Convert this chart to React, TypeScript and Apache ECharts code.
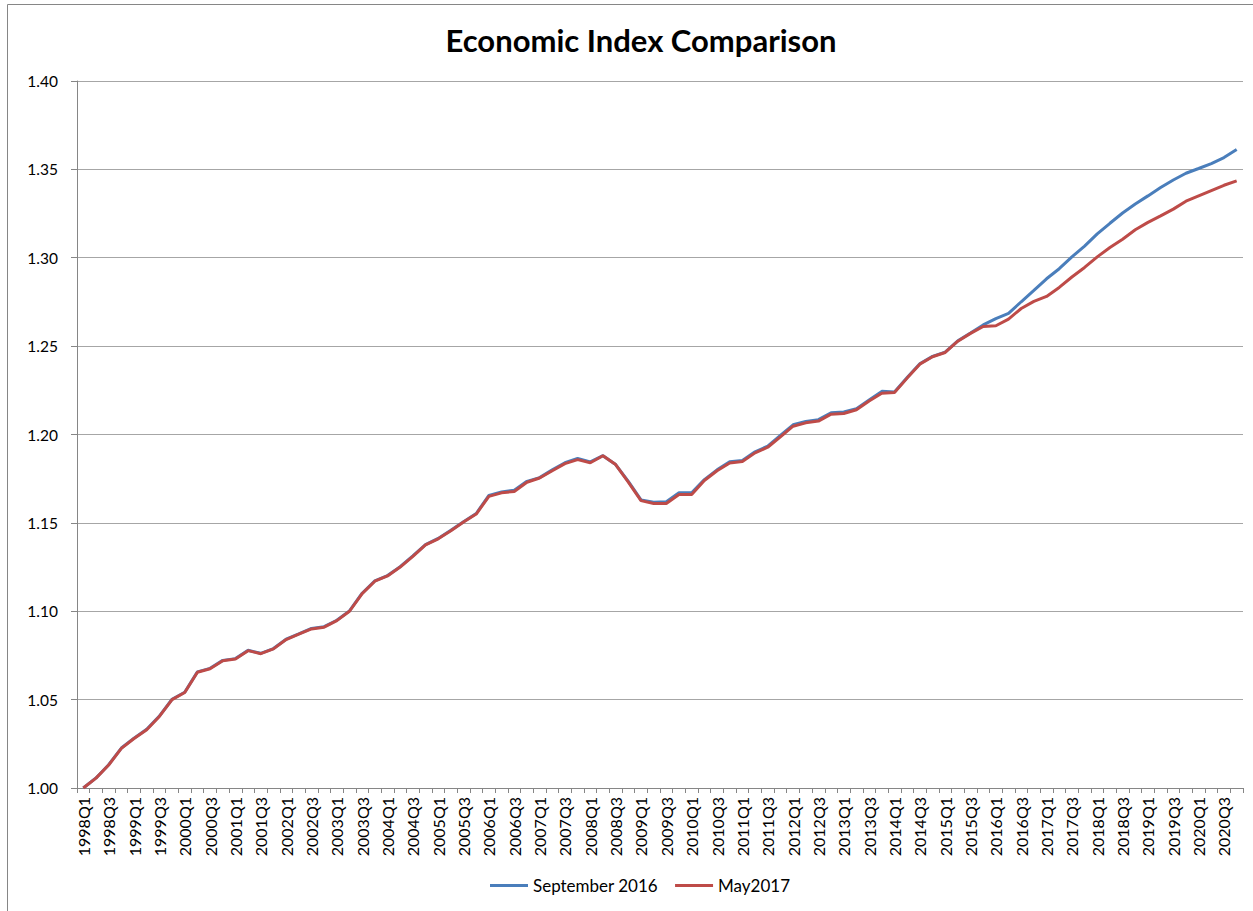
import React, { useEffect, useRef } from "react";
import * as echarts from "echarts";

const years: number[] = [];
for (let y = 1998; y <= 2020; y++) years.push(y);
const quarters = ["Q1", "Q2", "Q3", "Q4"];
const categories: string[] = [];
years.forEach((y) => quarters.forEach((q) => categories.push(`${y}${q}`)));

const seriesNames = ["September 2016", "May2017"];

const september2016 = [
  1.0, 1.0057, 1.0132, 1.0226, 1.0282, 1.0332, 1.0407, 1.0502, 1.0542, 1.0657,
  1.0677, 1.0722, 1.0732, 1.0779, 1.0762, 1.0789, 1.0842, 1.0872, 1.0903, 1.0913,
  1.0949, 1.1002, 1.1102, 1.1172, 1.1202, 1.1252, 1.1313, 1.1377, 1.1412, 1.1458,
  1.1507, 1.1553, 1.1655, 1.1675, 1.1685, 1.1735, 1.1756, 1.18, 1.184, 1.1865,
  1.1845, 1.188, 1.183, 1.1735, 1.163, 1.1617, 1.162, 1.167, 1.167, 1.1745,
  1.18, 1.1846, 1.1853, 1.1902, 1.1934, 1.1995, 1.2055, 1.2074, 1.2084, 1.2123,
  1.2127, 1.2146, 1.2195, 1.2244, 1.2241, 1.2322, 1.24, 1.2442, 1.2466, 1.253,
  1.2574, 1.262, 1.2656, 1.2685, 1.2751, 1.2815, 1.2881, 1.2938, 1.3005, 1.3066,
  1.3135, 1.3195, 1.3253, 1.3304, 1.335, 1.3397, 1.344, 1.3478, 1.3505, 1.3533,
  1.3567, 1.3613,
];

const may2017 = [
  1.0, 1.0056, 1.013, 1.0224, 1.028, 1.033, 1.0405, 1.05, 1.054, 1.0655,
  1.0675, 1.072, 1.073, 1.0777, 1.076, 1.0787, 1.084, 1.087, 1.09, 1.091,
  1.0947, 1.1, 1.11, 1.117, 1.12, 1.125, 1.131, 1.1375, 1.141, 1.1456,
  1.1505, 1.155, 1.165, 1.167, 1.1678, 1.173, 1.1754, 1.1795, 1.1835, 1.1858,
  1.184, 1.188, 1.183, 1.173, 1.1626, 1.161, 1.161, 1.166, 1.166, 1.174,
  1.1795, 1.1839, 1.1847, 1.1896, 1.1928, 1.1987, 1.2047, 1.2066, 1.2076, 1.2115,
  1.2119, 1.214, 1.219, 1.2233, 1.2237, 1.2319, 1.2398, 1.244, 1.2464, 1.2528,
  1.2572, 1.2611, 1.2615, 1.2653, 1.2713, 1.2753, 1.2781, 1.2832, 1.2891, 1.2945,
  1.3005, 1.3058, 1.3105, 1.3158, 1.32, 1.3237, 1.3275, 1.332, 1.335, 1.338,
  1.341, 1.3435,
];

const FONT = "Lato, 'Open Sans', sans-serif";

export default function App() {
  const ref = useRef<HTMLDivElement>(null);
  useEffect(() => {
    if (!ref.current) return;
    const chart = echarts.init(ref.current, null, { renderer: "svg" });
    chart.setOption({
      animation: false,
      backgroundColor: "#ffffff",
      textStyle: { fontFamily: FONT },
      title: {
        text: "Economic Index Comparison",
        left: 636,
        textAlign: "center",
        top: 19,
        textStyle: { fontFamily: FONT, fontSize: 31, fontWeight: "bold", color: "#000" },
      },
      graphic: [
        {
          type: "rect",
          shape: { x: 7.5, y: 4.5, width: 1260, height: 920 },
          style: { fill: "none", stroke: "#868686", lineWidth: 1 },
          silent: true,
          z: 100,
        },
      ],
      legend: {
        bottom: 12,
        left: 485,
        icon: "rect",
        itemWidth: 38,
        itemHeight: 3,
        itemGap: 17,
        textStyle: { fontFamily: FONT, fontSize: 17, color: "#000" },
        data: seriesNames,
      },
      grid: { left: 77, right: 10, top: 81, bottom: 123, containLabel: false },
      xAxis: {
        type: "category",
        data: categories,
        boundaryGap: true,
        axisLine: { show: true, lineStyle: { color: "#868686", width: 1 } },
        axisTick: { show: true, interval: 0, length: 5, lineStyle: { color: "#868686" } },
        axisLabel: {
          interval: 1,
          rotate: 90,
          margin: 9,
          fontFamily: FONT,
          fontSize: 16,
          color: "#000",
        },
        splitLine: { show: false },
      },
      yAxis: {
        type: "value",
        min: 1,
        max: 1.4,
        interval: 0.05,
        axisLine: { show: true, lineStyle: { color: "#868686", width: 1 } },
        axisTick: { show: true, length: 6, lineStyle: { color: "#868686" } },
        axisLabel: {
          margin: 19,
          fontFamily: FONT,
          fontSize: 15.5,
          color: "#000",
          formatter: (v: number) => v.toFixed(2),
        },
        splitLine: { show: true, lineStyle: { color: "#a6a6a6", width: 1 } },
      },
      series: [
        {
          name: seriesNames[0],
          type: "line",
          data: september2016,
          symbol: "none",
          lineStyle: { color: "#4a7ebb", width: 3 },
          itemStyle: { color: "#4a7ebb" },
        },
        {
          name: seriesNames[1],
          type: "line",
          data: may2017,
          symbol: "none",
          lineStyle: { color: "#be4b48", width: 3 },
          itemStyle: { color: "#be4b48" },
        },
      ],
    });
    return () => chart.dispose();
  }, []);
  return (
    <div
      ref={ref}
      style={{ position: "absolute", left: 0, top: 0, width: 1253, height: 911 }}
    />
  );
}
